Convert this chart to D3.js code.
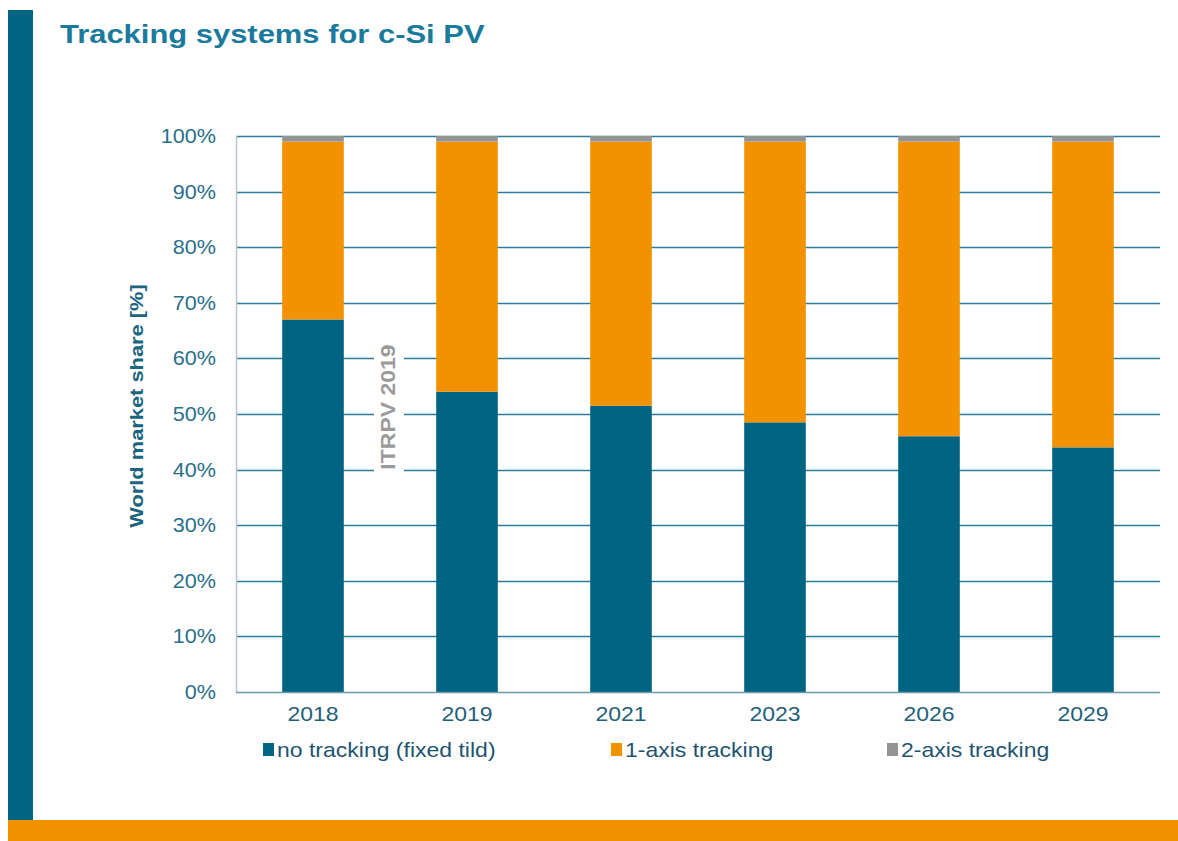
<!DOCTYPE html>
<html>
<head>
<meta charset="utf-8">
<script src="https://cdn.jsdelivr.net/npm/d3@7"></script>
<style>
  body { margin: 0; background: #fff; }
  text { font-family: Arial, "Liberation Sans", sans-serif; }
</style>
</head>
<body>
<div class="canvas"></div>
<script>
const years = ['2018', '2019', '2021', '2023', '2026', '2029'];
const noTracking = [67, 54, 51.5, 48.5, 46, 44];
const oneAxis = [32, 45, 47.5, 50.5, 53, 55];
const twoAxis = [1, 1, 1, 1, 1, 1];
const seriesNames = ['no tracking (fixed tild)', '1-axis tracking', '2-axis tracking'];
const yTicks = [0, 10, 20, 30, 40, 50, 60, 70, 80, 90, 100];

const colours = ['#006482', '#f39200', '#949494'];

const width = 1178, height = 841;
const svg = d3.select('.canvas')
    .append('svg')
    .attr('width', width)
    .attr('height', height);

// the original font runs a bit wider than Liberation Sans, so stretch text a little
const stretch = 1.15;

// frame decoration
svg.append('rect').attr('x', 8).attr('y', 10).attr('width', 25).attr('height', 810).attr('fill', '#006482');
svg.append('rect').attr('x', 8).attr('y', 820).attr('width', 1170).attr('height', 21).attr('fill', '#f39200');

svg.append('text')
    .attr('transform', 'translate(60,43) scale(1.19,1)')
    .attr('fill', '#1a7a9c')
    .style('font-size', '26px')
    .style('font-weight', 'bold')
    .text('Tracking systems for c-Si PV');

const m = { left: 236, right: 1160, top: 136, bottom: 692 };

const x = d3.scaleBand()
    .domain(years)
    .range([m.left, m.right])
    .paddingInner(0.6)
    .paddingOuter(0.3);

const y = d3.scaleLinear()
    .domain([0, 100])
    .range([m.bottom, m.top]);

// gridlines
svg.append('g')
    .selectAll('line')
    .data(yTicks.filter(d => d > 0))
    .enter().append('line')
    .attr('x1', m.left).attr('x2', m.right)
    .attr('y1', d => Math.round(y(d)) + 0.5).attr('y2', d => Math.round(y(d)) + 0.5)
    .attr('stroke', '#2c7d99')
    .attr('stroke-width', 1.3);

// ITRPV watermark with white box behind it
const wm = svg.append('g').attr('transform', 'translate(395,407) rotate(-90)');
wm.append('rect').attr('x', -72).attr('y', -21).attr('width', 144).attr('height', 30).attr('fill', '#fff');
wm.append('text')
    .attr('transform', `scale(${stretch},1)`)
    .attr('text-anchor', 'middle')
    .attr('fill', '#9a9a9a')
    .style('font-size', '20px')
    .style('font-weight', 'bold')
    .text('ITRPV 2019');

// stacked bars
const rows = years.map((yr, i) => ({ year: yr, a: noTracking[i], b: oneAxis[i], c: twoAxis[i] }));
const stack = d3.stack().keys(['a', 'b', 'c']);
const layers = stack(rows);

svg.append('g')
    .selectAll('g')
    .data(layers)
    .enter().append('g')
    .attr('fill', (d, i) => colours[i])
    .selectAll('rect')
    .data(d => d)
    .enter().append('rect')
    .attr('x', d => x(d.data.year))
    .attr('width', x.bandwidth())
    .attr('y', d => y(d[1]))
    .attr('height', d => y(d[0]) - y(d[1]));

// axes lines
svg.append('line')
    .attr('x1', m.left + 0.5).attr('x2', m.left + 0.5)
    .attr('y1', m.top).attr('y2', m.bottom)
    .attr('stroke', '#b9c6cc').attr('stroke-width', 1.5);
svg.append('line')
    .attr('x1', m.left).attr('x2', m.right)
    .attr('y1', m.bottom + 0.5).attr('y2', m.bottom + 0.5)
    .attr('stroke', '#6f9aab').attr('stroke-width', 1.5);

// y tick labels
svg.append('g')
    .selectAll('text')
    .data(yTicks)
    .enter().append('text')
    .attr('transform', d => `translate(216,${y(d) + 7}) scale(1.08,1)`)
    .attr('text-anchor', 'end')
    .attr('fill', '#2a6f8a')
    .style('font-size', '20px')
    .text(d => d + '%');

// x tick labels
svg.append('g')
    .selectAll('text')
    .data(years)
    .enter().append('text')
    .attr('transform', d => `translate(${x(d) + x.bandwidth() / 2},721) scale(${stretch},1)`)
    .attr('text-anchor', 'middle')
    .attr('fill', '#1f5f78')
    .style('font-size', '20px')
    .text(d => d);

// y axis title
svg.append('text')
    .attr('transform', `translate(143,406) rotate(-90) scale(${stretch},1)`)
    .attr('text-anchor', 'middle')
    .attr('fill', '#1a6580')
    .style('font-size', '19px')
    .style('font-weight', 'bold')
    .text('World market share [%]');

// legend
const legendX = [263, 611, 887];
const legend = svg.append('g')
    .selectAll('g')
    .data(seriesNames)
    .enter().append('g')
    .attr('transform', (d, i) => `translate(${legendX[i]},750)`);
legend.append('rect')
    .attr('x', 0).attr('y', -7)
    .attr('width', 11).attr('height', 13)
    .attr('fill', (d, i) => colours[i]);
legend.append('text')
    .attr('transform', `translate(14,7) scale(${stretch},1)`)
    .attr('fill', '#1f5470')
    .style('font-size', '20px')
    .text(d => d);
</script>
</body>
</html>
